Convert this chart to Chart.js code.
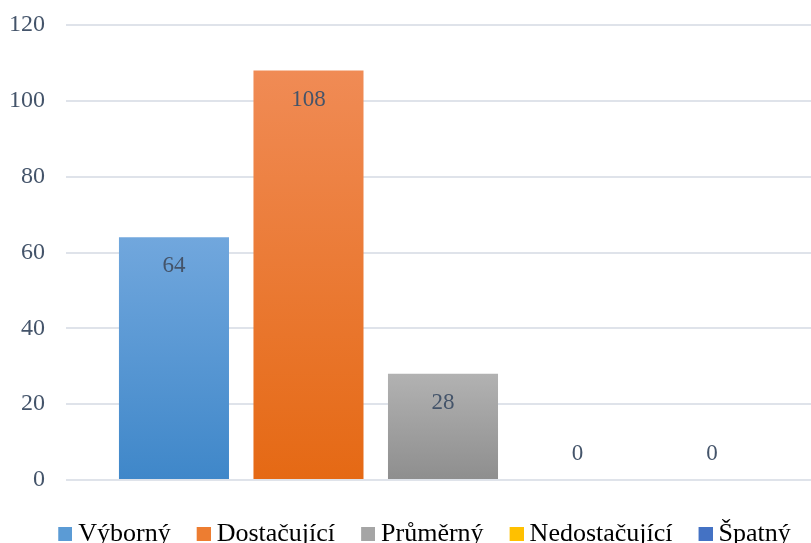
<!DOCTYPE html>
<html>
<head>
<meta charset="utf-8">
<script src="https://cdn.jsdelivr.net/npm/chart.js@4"></script>
<style>
  html, body { margin: 0; padding: 0; background: #fff; overflow: hidden; }
  #wrap { width: 850px; height: 557px; }
</style>
</head>
<body>
<div id="wrap"><canvas id="gradesChart" width="850" height="557"></canvas></div>
<script>
// hodnoty z grafu
const categories = [''];
const seriesNames = ['Výborný', 'Dostačující', 'Průměrný', 'Nedostačující', 'Špatný'];
const seriesValues = [64, 108, 28, 0, 0];
const yMin = 0;
const yMax = 120;
const yStep = 20;

// barvy (horní / dolní konec přechodu, barva v legendě)
const barTop = ['#71a7dd', '#f08b55', '#b2b2b2', '#ffc000', '#4472c4'];
const barBottom = ['#3f87c9', '#e56914', '#8e8e8e', '#ffc000', '#4472c4'];
const legendColors = ['#5b9bd5', '#ed7d31', '#a5a5a5', '#ffc000', '#4472c4'];

document.addEventListener('DOMContentLoaded', () => {
  if (typeof Chart === 'undefined') {
    console.error('Chart.js není načten');
    return;
  }

  Chart.defaults.font.family = '"Liberation Serif", "Times New Roman", serif';

  const barFill = (i) => (context) => {
    const chart = context.chart;
    const yScale = chart.scales.y;
    if (!chart.chartArea || !yScale) return barTop[i];
    const top = yScale.getPixelForValue(seriesValues[i]);
    const bottom = yScale.getPixelForValue(0);
    if (bottom - top < 1) return barTop[i];
    const g = chart.ctx.createLinearGradient(0, top, 0, bottom);
    g.addColorStop(0, barTop[i]);
    g.addColorStop(1, barBottom[i]);
    return g;
  };

  // čtvereček v legendě posunutý doprava, aby byl blíž k textu
  const legendMarker = (color) => {
    const c = document.createElement('canvas');
    c.width = 28;
    c.height = 14;
    const cx = c.getContext('2d');
    cx.fillStyle = color;
    cx.fillRect(14, 0, 14, 14);
    return c;
  };
  const markers = legendColors.map(legendMarker);

  const valueLabels = {
    id: 'valueLabels',
    afterDatasetsDraw(chart) {
      const ctx = chart.ctx;
      ctx.save();
      ctx.font = '23px "Liberation Serif"';
      ctx.fillStyle = '#44546a';
      ctx.textAlign = 'center';
      ctx.textBaseline = 'middle';
      chart.data.datasets.forEach((ds, i) => {
        const bar = chart.getDatasetMeta(i).data[0];
        const v = ds.data[0];
        const y = v > 0 ? bar.y + 29 : bar.base - 26;
        ctx.fillText(String(v), bar.x, y);
      });
      ctx.restore();
    }
  };

  // legenda je v originále trochu víc vpravo
  const legendShift = {
    id: 'legendShift',
    afterLayout(chart) {
      if (chart.legend) {
        chart.legend.left += 11;
        chart.legend.right += 11;
      }
    }
  };

  new Chart(document.getElementById('gradesChart').getContext('2d'), {
    type: 'bar',
    data: {
      labels: categories,
      datasets: seriesNames.map((name, i) => ({
        label: name,
        data: [seriesValues[i]],
        backgroundColor: barFill(i),
        borderWidth: 0,
        categoryPercentage: 0.892,
        barPercentage: 0.818
      }))
    },
    options: {
      responsive: false,
      animation: false,
      layout: { padding: { top: 25, right: 30, left: 0, bottom: 0 } },
      plugins: {
        tooltip: { enabled: false },
        legend: {
          position: 'bottom',
          labels: {
            color: '#000',
            font: { size: 26 },
            boxWidth: 14,
            boxHeight: 14,
            padding: 19,
            usePointStyle: true,
            generateLabels: (chart) => chart.data.datasets.map((ds, i) => ({
              text: ds.label,
              fillStyle: legendColors[i],
              strokeStyle: legendColors[i],
              lineWidth: 0,
              pointStyle: markers[i],
              hidden: false,
              datasetIndex: i
            }))
          }
        }
      },
      scales: {
        x: {
          ticks: { display: false },
          grid: { display: false },
          border: { display: false },
          afterFit: (axis) => { axis.height = 22; }
        },
        y: {
          min: yMin,
          max: yMax,
          ticks: { stepSize: yStep, color: '#44546a', font: { size: 24 }, padding: 21 },
          grid: { color: '#dfe3ea', lineWidth: 2, drawTicks: false },
          border: { display: false },
          afterFit: (axis) => {
            axis.width = 66;
            axis.paddingTop = 0;
            axis.paddingBottom = 0;
          }
        }
      }
    },
    plugins: [valueLabels, legendShift]
  });
});
</script>
</body>
</html>
